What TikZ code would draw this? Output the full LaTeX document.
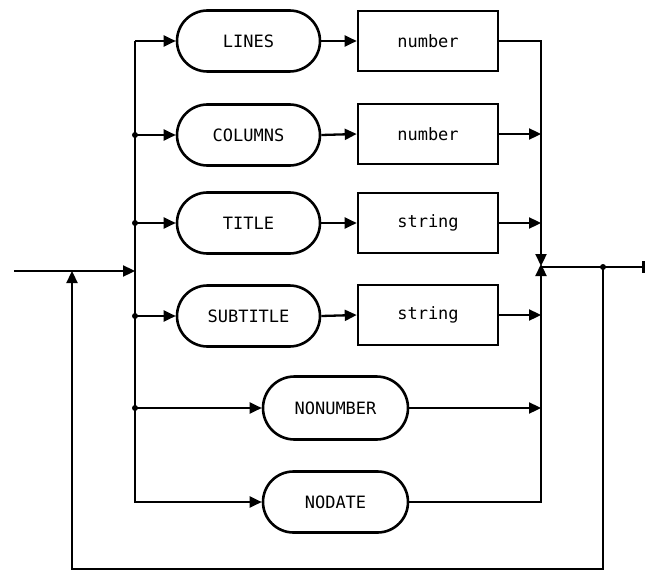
\documentclass[tikz,border=0pt]{standalone}
\usepackage{fontspec}
\setmonofont{DejaVu Sans Mono}
\usetikzlibrary{shapes.misc,arrows.meta}
\begin{document}
\begin{tikzpicture}[x=1pt,y=-1pt,
  txt/.style={font=\ttfamily\fontsize{17}{17}\selectfont},
  kw/.style={rounded rectangle, draw, line width=2.6pt, minimum width=143pt, minimum height=61pt, inner sep=0pt, txt},
  vbox/.style={rectangle, draw, line width=2.6pt, minimum width=140pt, minimum height=60pt, inner sep=0pt, txt},
  conn/.style={line width=2.3pt, line join=miter},
  arr/.style={-{Triangle[length=12pt,width=11pt]}},
  jdot/.style={circle, fill, inner sep=0pt, minimum size=6pt}
]
\useasboundingbox (0,0) rectangle (647,572);

% keyword nodes
\node[kw] (lines) at (248.5,41) {LINES};
\node[kw] (columns) at (248.5,135) {COLUMNS};
\node[kw] (title) at (248.5,223) {TITLE};
\node[kw] (subtitle) at (248.5,316) {SUBTITLE};
\node[kw, minimum width=145pt, minimum height=63pt] (nonumber) at (335.5,408) {NONUMBER};
\node[kw, minimum width=145pt] (nodate) at (335.5,502) {NODATE};

% value boxes
\node[vbox] (num1) at (428,41) {number};
\node[vbox] (num2) at (428,134) {number};
\node[vbox] (str1) at (428,223) {string};
\node[vbox] (str2) at (428,315) {string};

% bus coordinates
\coordinate (bl1) at (135,41);
\coordinate (bl6) at (135,502);
\coordinate (br1) at (541,41);
\coordinate (br6) at (541,502);
\coordinate (ex) at (541,266);
\coordinate (in) at (14,271);
\coordinate (out) at (645,267);
\coordinate (j) at (603,267);
\coordinate (lb) at (72,569);

% entry
\draw[conn,arr] (in) -- (in -| bl1);

% left bus
\draw[conn,arr] (bl1) -- (bl6) -- (nodate.west);
\draw[conn,arr] (bl1) -- (lines.west);
\draw[conn,arr] (columns.west -| bl1) -- (columns.west);
\draw[conn,arr] (title.west -| bl1) -- (title.west);
\draw[conn,arr] (subtitle.west -| bl1) -- (subtitle.west);
\draw[conn,arr] (nonumber.west -| bl1) -- (nonumber.west);
\node[jdot] (d2) at (columns.west -| bl1) {};
\node[jdot] (d3) at (title.west -| bl1) {};
\node[jdot] (d4) at (subtitle.west -| bl1) {};
\node[jdot] (d5) at (nonumber.west -| bl1) {};

% keyword to value
\draw[conn,arr] (lines.east) -- (num1.west);
\draw[conn,arr] (columns.east) -- (num2.west);
\draw[conn,arr] (title.east) -- (str1.west);
\draw[conn,arr] (subtitle.east) -- (str2.west);

% right bus
\draw[conn,arr] (num1.east) -- (br1) -- (ex);
\draw[conn,arr] (nodate.east) -- (br6) -- ([yshift=2pt]ex);
\draw[conn,arr] (num2.east) -- (num2.east -| br1);
\draw[conn,arr] (str1.east) -- (str1.east -| br1);
\draw[conn,arr] (str2.east) -- (str2.east -| br1);
\draw[conn,arr] (nonumber.east) -- (nonumber.east -| br1);

% exit
\draw[conn,-{Bar[width=12pt,line width=3pt]}] (ex |- out) -- (out);

% loop back
\draw[conn,arr] (j) -- (j |- lb) -- (lb) -- (lb |- in);
\node[jdot] (dj) at (j) {};
\end{tikzpicture}
\end{document}
